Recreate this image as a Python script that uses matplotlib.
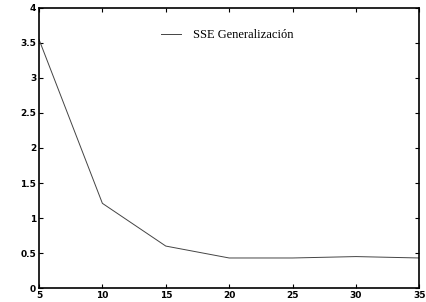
import matplotlib
matplotlib.use('Agg')
import matplotlib.pyplot as plt

# datos
epocas = [5, 10, 15, 20, 25, 30, 35]
sse_gen = [3.55, 1.21, 0.60, 0.43, 0.43, 0.45, 0.43]

fig = plt.figure(figsize=(4.26, 3.02), dpi=100)
ax = fig.add_axes([0.0915, 0.046, 0.893, 0.928])

ax.plot(epocas, sse_gen, color='#444444', linewidth=0.7, label='SSE Generalización')

ax.set_xlim(5, 35)
ax.set_ylim(0, 4)
ax.set_xticks(range(5, 36, 5))
ax.set_yticks([0, 0.5, 1, 1.5, 2, 2.5, 3, 3.5, 4])
ax.set_yticklabels(['0', '0.5', '1', '1.5', '2', '2.5', '3', '3.5', '4'])
ax.tick_params(direction='in', top=True, right=True, length=3, width=0.8,
               labelsize=6.5, pad=2)
for lbl in ax.get_xticklabels() + ax.get_yticklabels():
    lbl.set_fontweight('bold')
for s in ax.spines.values():
    s.set_linewidth(1.2)

ax.legend(loc='upper left', bbox_to_anchor=(0.29, 0.965), frameon=False,
          handlelength=1.6, handletextpad=1.0,
          prop={'family': 'Liberation Serif', 'size': 9})

fig.savefig('out.png', dpi=100)
